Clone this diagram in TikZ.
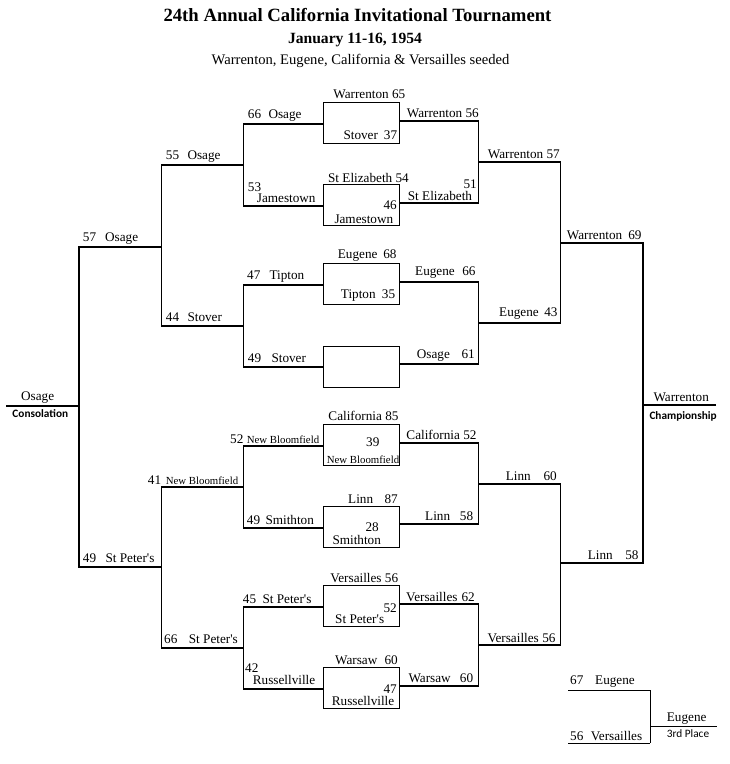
\documentclass[tikz,border=0pt]{standalone}
\usepackage{fontspec}
\setmainfont{Liberation Serif}
\newfontfamily\labelsans{Carlito}
\begin{document}
\begin{tikzpicture}
[x=1pt,y=-1pt,
  boxdecorate/.style={shape=rectangle,draw,line width=0.9pt,minimum width=76pt,minimum height=41pt,inner sep=0pt},%
  linedecorate/.style={-,line width=1.8pt,line cap=rect},%
  finaldecorate/.style={-,line width=1.4pt},%
  thindecorate/.style={-,line width=0.9pt},%
  westdecorate/.style={inner sep=0pt,anchor=base west,font=\fontsize{13.2}{15}\selectfont},%
  eastdecorate/.style={inner sep=0pt,anchor=base east,font=\fontsize{13.2}{15}\selectfont},%
  smalldecorate/.style={inner sep=0pt,anchor=base west,font=\fontsize{10.8}{12}\selectfont},%
  sansdecorate/.style={inner sep=0pt,anchor=base west,font=\labelsans\fontsize{11.3}{13}\selectfont}]
\useasboundingbox (0,0) rectangle (730,764);
%%% heading
\node (title) at (357.5,21.7) [anchor=base,inner sep=0pt,font=\bfseries\fontsize{18.7}{22}\selectfont] {24th Annual California Invitational Tournament};
\node (dates) at (355,43.3) [anchor=base,inner sep=0pt,font=\bfseries\fontsize{15.6}{18}\selectfont] {January 11-16, 1954};
\node (seeds) at (360.5,64) [anchor=base,inner sep=0pt,font=\fontsize{14.6}{17}\selectfont] {Warrenton, Eugene, California \& Versailles seeded};
%
%%% first round boxes
\node (w1) at (361,122.5) [boxdecorate] {};
\node (w2) at (361,204.5) [boxdecorate] {};
\node (w3) at (361,283.5) [boxdecorate] {};
\node (w4) at (361,366.5) [boxdecorate] {};
\node (w5) at (361,444.5) [boxdecorate] {};
\node (w6) at (361,526.5) [boxdecorate] {};
\node (w7) at (361,605.5) [boxdecorate] {};
\node (w8) at (361,687.5) [boxdecorate] {};
% texts in and over the boxes
\node (w1a) at (405.5,98.3) [eastdecorate] {Warrenton 65};
\node (w1b) at (343.3,139.3) [westdecorate] {Stover};
\node (w1c) at (397.3,139.3) [eastdecorate] {37};
\node (w2a) at (409,182) [eastdecorate] {St Elizabeth 54};
\node (w2b) at (397,209.5) [eastdecorate] {46};
\node (w2c) at (334.3,223) [westdecorate] {Jamestown};
\node (w3a) at (337.7,258.3) [westdecorate] {Eugene};
\node (w3b) at (396.7,258.3) [eastdecorate] {68};
\node (w3c) at (340.7,298.3) [westdecorate] {Tipton};
\node (w3d) at (395.3,298.3) [eastdecorate] {35};
\node (w5a) at (398.7,420.7) [eastdecorate] {California 85};
\node (w5b) at (366,446.7) [westdecorate] {39};
\node (w5c) at (326.7,463.3) [smalldecorate] {New Bloomfield};
\node (w6a) at (348,503.3) [westdecorate] {Linn};
\node (w6b) at (398,503.3) [eastdecorate] {87};
\node (w6c) at (365.3,531) [westdecorate] {28};
\node (w6d) at (332.3,544) [westdecorate] {Smithton};
\node (w7a) at (398.3,582.7) [eastdecorate] {Versailles 56};
\node (w7b) at (397,612.3) [eastdecorate] {52};
\node (w7c) at (335,623.7) [westdecorate] {St Peter\textquotesingle s};
\node (w8a) at (335,664.3) [westdecorate] {Warsaw};
\node (w8b) at (398,664.3) [eastdecorate] {60};
\node (w8c) at (397,693.3) [eastdecorate] {47};
\node (w8d) at (331.7,705.7) [westdecorate] {Russellville};
%
%%% consolation half (left)
% corners
\coordinate (a1) at (243.5,124);
\coordinate (a2) at (243.5,206);
\coordinate (a3) at (243.5,285);
\coordinate (a4) at (243.5,367);
\coordinate (a5) at (243.5,446);
\coordinate (a6) at (243.5,528);
\coordinate (a7) at (243.5,607);
\coordinate (a8) at (243.5,689);
\coordinate (b1) at (161.5,165);
\coordinate (b2) at (161.5,326);
\coordinate (b3) at (161.5,487);
\coordinate (b4) at (161.5,648);
\coordinate (c1) at (79,247);
\coordinate (c2) at (79,567);
\coordinate (d) at (6,406);
% edges or lines
\path
(a1) edge[linedecorate] (a1 -| w1.west)
(a2) edge[linedecorate] (a2 -| w2.west)
(a3) edge[linedecorate] (a3 -| w3.west)
(a4) edge[linedecorate] (a4 -| w4.west)
(a5) edge[linedecorate] (a5 -| w5.west)
(a6) edge[linedecorate] (a6 -| w6.west)
(a7) edge[linedecorate] (a7 -| w7.west)
(a8) edge[linedecorate] (a8 -| w8.west)
(a1) edge[linedecorate] (a2)
(a3) edge[linedecorate] (a4)
(a5) edge[linedecorate] (a6)
(a7) edge[linedecorate] (a8)
(b1) edge[linedecorate] (b1 -| a1)
(b2) edge[linedecorate] (b2 -| a3)
(b3) edge[linedecorate] (b3 -| a5)
(b4) edge[linedecorate] (b4 -| a7)
(b1) edge[linedecorate] (b2)
(b3) edge[linedecorate] (b4)
(c1) edge[linedecorate] (c1 -| b1)
(c2) edge[linedecorate] (c2 -| b3)
(c1) edge[linedecorate] (c2)
(d) edge[finaldecorate] (d -| c1);
% texts
\node (a1s) at (247.7,118) [westdecorate] {66};
\node (a1n) at (268.3,118) [westdecorate] {Osage};
\node (a2s) at (247.7,191) [westdecorate] {53};
\node (a2n) at (256.7,202.7) [westdecorate] {Jamestown};
\node (a3s) at (247,279.5) [westdecorate] {47};
\node (a3n) at (269.3,279.5) [westdecorate] {Tipton};
\node (a4s) at (247.7,362) [westdecorate] {49};
\node (a4n) at (271.3,362) [westdecorate] {Stover};
\node (a5s) at (230,443) [westdecorate] {52};
\node (a5n) at (246.7,443) [smalldecorate] {New Bloomfield};
\node (a6s) at (246.7,524.5) [westdecorate] {49};
\node (a6n) at (265.3,524.5) [westdecorate] {Smithton};
\node (a7s) at (242.7,603) [westdecorate] {45};
\node (a7n) at (262.3,603) [westdecorate] {St Peter\textquotesingle s};
\node (a8s) at (245,672) [westdecorate] {42};
\node (a8n) at (252.7,684.5) [westdecorate] {Russellville};
\node (b1s) at (165.7,159.3) [westdecorate] {55};
\node (b1n) at (187.3,159.3) [westdecorate] {Osage};
\node (b2s) at (165.7,321.5) [westdecorate] {44};
\node (b2n) at (187.3,321.5) [westdecorate] {Stover};
\node (b3s) at (147.7,484) [westdecorate] {41};
\node (b3n) at (165.7,484) [smalldecorate] {New Bloomfield};
\node (b4s) at (164,643.5) [westdecorate] {66};
\node (b4n) at (188.7,643.5) [westdecorate] {St Peter\textquotesingle s};
\node (c1s) at (82.7,241) [westdecorate] {57};
\node (c1n) at (105,241) [westdecorate] {Osage};
\node (c2s) at (82.7,562) [westdecorate] {49};
\node (c2n) at (105.3,562) [westdecorate] {St Peter\textquotesingle s};
\node (dn) at (21,400) [westdecorate] {Osage};
\node (dl) at (12.3,417.3) [sansdecorate] {\bfseries Consolation};
%
%%% championship half (right)
% corners
\coordinate (e1) at (478.5,121);
\coordinate (e2) at (478.5,203);
\coordinate (e3) at (478.5,282);
\coordinate (e4) at (478.5,364);
\coordinate (e5) at (478.5,443);
\coordinate (e6) at (478.5,524);
\coordinate (e7) at (478.5,604);
\coordinate (e8) at (478.5,686);
\coordinate (f1) at (560.5,162);
\coordinate (f2) at (560.5,323);
\coordinate (f3) at (560.5,484);
\coordinate (f4) at (560.5,645);
\coordinate (g1) at (643,243);
\coordinate (g2) at (643,563);
\coordinate (h) at (716,405);
% edges or lines
\path
(e1) edge[linedecorate] (e1 -| w1.east)
(e2) edge[linedecorate] (e2 -| w2.east)
(e3) edge[linedecorate] (e3 -| w3.east)
(e4) edge[linedecorate] (e4 -| w4.east)
(e5) edge[linedecorate] (e5 -| w5.east)
(e6) edge[linedecorate] (e6 -| w6.east)
(e7) edge[linedecorate] (e7 -| w7.east)
(e8) edge[linedecorate] (e8 -| w8.east)
(e1) edge[linedecorate] (e2)
(e3) edge[linedecorate] (e4)
(e5) edge[linedecorate] (e6)
(e7) edge[linedecorate] (e8)
(f1) edge[linedecorate] (f1 -| e1)
(f2) edge[linedecorate] (f2 -| e3)
(f3) edge[linedecorate] (f3 -| e5)
(f4) edge[linedecorate] (f4 -| e7)
(f1) edge[linedecorate] (f2)
(f3) edge[linedecorate] (f4)
(g1) edge[linedecorate] (g1 -| f1)
(g2) edge[linedecorate] (g2 -| f3)
(g1) edge[linedecorate] (g2)
(h) edge[finaldecorate] (h -| g1);
% texts
\node (e1n) at (479,117.3) [eastdecorate] {Warrenton 56};
\node (e2s) at (477,188.3) [eastdecorate] {51};
\node (e2n) at (407.7,200.3) [westdecorate] {St Elizabeth};
\node (e3n) at (415,275.7) [westdecorate] {Eugene};
\node (e3s) at (475.7,275.7) [eastdecorate] {66};
\node (e4n) at (416.7,358.7) [westdecorate] {Osage};
\node (e4s) at (475,358.7) [eastdecorate] {61};
\node (e5n) at (476.7,439.3) [eastdecorate] {California 52};
\node (e6n) at (425,520.7) [westdecorate] {Linn};
\node (e6s) at (473.3,520.7) [eastdecorate] {58};
\node (e7n) at (406,601) [westdecorate] {Versailles};
\node (e7s) at (475,601) [eastdecorate] {62};
\node (e8n) at (408.3,682.7) [westdecorate] {Warsaw};
\node (e8s) at (473.3,682.7) [eastdecorate] {60};
\node (f1n) at (560,158.7) [eastdecorate] {Warrenton 57};
\node (f2n) at (499,316.7) [westdecorate] {Eugene};
\node (f2s) at (557.7,316.7) [eastdecorate] {43};
\node (f3n) at (505.7,480.7) [westdecorate] {Linn};
\node (f3s) at (557,480.7) [eastdecorate] {60};
\node (f4n) at (487.3,642) [westdecorate] {Versailles};
\node (f4s) at (555.7,642) [eastdecorate] {56};
\node (g1n) at (566.7,239) [westdecorate] {Warrenton};
\node (g1s) at (641.7,239) [eastdecorate] {69};
\node (g2n) at (587.7,559) [westdecorate] {Linn};
\node (g2s) at (638.7,559) [eastdecorate] {58};
\node (hn) at (653.3,401) [westdecorate] {Warrenton};
\node (hl) at (649.3,419.3) [sansdecorate] {\bfseries Championship};
%
%%% third place game
% corners
\coordinate (t1) at (568,690);
\coordinate (t2) at (568,743);
\coordinate (t3) at (650,726);
\coordinate (t4) at (717,726);
% edges or lines
\path
(t1) edge[thindecorate] (t1 -| t3)
(t2) edge[thindecorate] (t2 -| t3)
(t1 -| t3) edge[thindecorate] (t2 -| t3)
(t3) edge[thindecorate] (t4);
% texts
\node (t1s) at (570,684) [westdecorate] {67};
\node (t1n) at (595,684) [westdecorate] {Eugene};
\node (t2s) at (570,740) [westdecorate] {56};
\node (t2n) at (590.7,740) [westdecorate] {Versailles};
\node (t3n) at (666.7,721) [westdecorate] {Eugene};
\node (t3l) at (666.7,737.3) [sansdecorate] {3rd Place};
\end{tikzpicture}
\end{document}
